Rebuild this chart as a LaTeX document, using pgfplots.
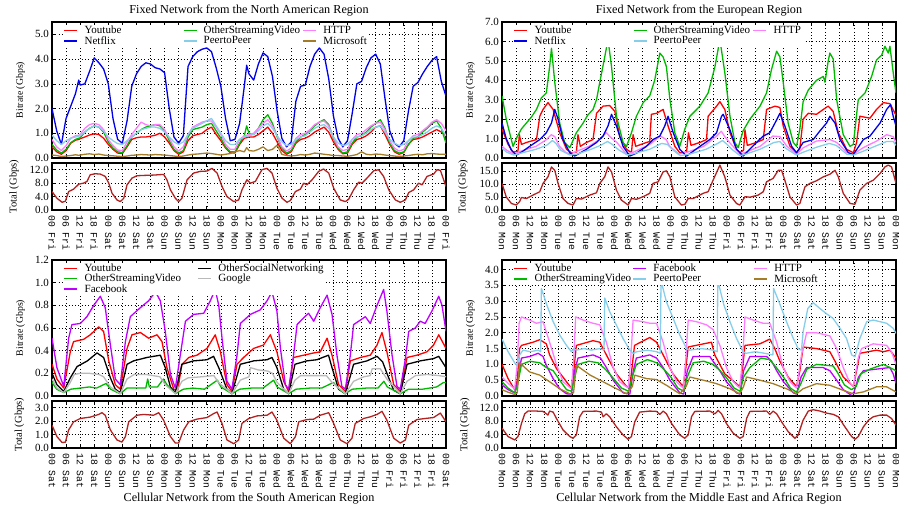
\documentclass[border=0pt]{standalone}
\usepackage{fontspec}
\setmainfont{Liberation Serif}
\newfontfamily\monof{Liberation Mono}
\usepackage{pgfplots}
\usepackage{pgfplotstable}
\pgfplotsset{compat=1.18}

\definecolor{cyt}{RGB}{255,0,0}
\definecolor{cnf}{RGB}{0,0,235}
\definecolor{cosv}{RGB}{0,185,0}
\definecolor{chttp}{RGB}{255,125,255}
\definecolor{cp2p}{RGB}{135,206,235}
\definecolor{cms}{RGB}{165,125,40}
\definecolor{cfb}{RGB}{190,0,255}
\definecolor{cosn}{RGB}{0,0,0}
\definecolor{cgo}{RGB}{185,185,185}
\definecolor{ctot}{RGB}{178,34,34}

\newcommand{\tfont}{\fontsize{12.2}{14}\selectfont}
\newcommand{\lfont}{\fontsize{11}{12}\selectfont}

\pgfplotsset{
 gbase/.style={
  scale only axis, width=394pt, xmin=0, xmax=168, ymin=0,
  xtick={0,6,...,168},
  grid=major,
  major grid style={black, line width=0.55pt, dash pattern=on 1pt off 2.3pt},
  axis line style={line width=1.3pt},
  tick align=inside, major tick length=4pt,
  tick style={black, line width=0.6pt},
  yticklabel style={font=\lfont, inner sep=1pt},
  yticklabel shift=2pt,
  /pgf/number format/fixed, /pgf/number format/fixed zerofill,
  /pgf/number format/precision=1, /pgf/number format/assume math mode=true,
  every axis plot/.append style={line width=1.3pt, line join=round, mark=none},
  legend cell align=left,
  legend image code/.code={\draw[##1] (0pt,0pt) -- (13pt,0pt);},
  legend style={draw=none, fill=white, font=\lfont, inner sep=1pt, row sep=0pt,
    nodes={inner sep=0.5pt, text depth=0.15em}, anchor=north west,
    at={(axis description cs:0.027,0.982)}},
 },
 mainax/.style={gbase, height=136pt, xticklabels={}, ylabel={Bitrate (Gbps)},
   ylabel style={at={(axis description cs:-0.080,0.5)}, anchor=center, font=\fontsize{9.8}{10}\selectfont}},
 totax/.style={gbase, height=47pt, ylabel={Total (Gbps)},
   xticklabel style={rotate=-90, anchor=west, font=\monof\fontsize{9.7}{10}\selectfont, inner sep=0pt},
   xticklabel shift=5pt,
   ylabel style={anchor=center, font=\fontsize{10.5}{11}\selectfont}},
 leg3/.style={legend columns=3, legend style={
   /tikz/column 1/.style={column sep=6pt}, /tikz/column 2/.style={column sep=#1},
   /tikz/column 3/.style={column sep=6pt}, /tikz/column 4/.style={column sep=2pt},
   /tikz/column 5/.style={column sep=6pt}}},
}

\pgfplotstableread{
h yt nf osv http p2p ms
0 0.45 2.00 0.55 0.75 0.93 0.12
2 0.25 1.10 0.32 0.45 0.70 0.10
4 0.15 0.55 0.20 0.30 0.55 0.06
6 0.30 1.60 0.35 0.50 0.70 0.08
8 0.60 2.10 0.62 0.80 0.80 0.10
10 0.72 2.60 0.75 0.90 0.85 0.13
11.4 0.75 3.15 0.80 0.92 0.88 0.11
12 0.78 2.95 0.82 0.95 0.90 0.12
14 0.85 3.00 1.05 1.20 1.05 0.15
16 0.93 3.50 1.20 1.35 1.20 0.17
18 0.98 4.05 1.30 1.40 1.30 0.14
20 0.95 3.85 1.25 1.35 1.25 0.16
22 0.80 3.60 1.05 1.15 1.10 0.12
24 0.55 3.00 0.65 0.75 0.85 0.10
26 0.35 1.60 0.40 0.50 0.70 0.09
28 0.20 0.75 0.25 0.32 0.58 0.07
30 0.18 0.60 0.22 0.30 0.55 0.06
32 0.45 1.50 0.50 0.65 0.70 0.08
34 0.75 2.90 0.85 0.95 0.85 0.11
36 0.82 3.40 1.00 1.20 1.00 0.12
38 0.85 3.70 1.15 1.45 1.15 0.14
40 0.85 3.85 1.25 1.35 1.20 0.13
42 0.88 3.80 1.30 1.30 1.25 0.12
44 0.92 3.65 1.35 1.35 1.25 0.14
46 1.00 3.60 1.30 1.35 1.20 0.13
48 0.85 3.45 1.10 1.15 1.05 0.12
50 0.60 2.00 0.70 0.80 0.85 0.10
52 0.30 0.85 0.35 0.45 0.65 0.08
54 0.15 0.60 0.20 0.28 0.55 0.06
56 0.25 0.90 0.30 0.45 0.65 0.08
58 0.70 3.70 0.85 0.95 0.95 0.12
60 0.90 4.10 1.15 1.25 1.20 0.15
62 0.95 4.30 1.20 1.35 1.30 0.16
64 1.00 4.40 1.25 1.45 1.40 0.18
66 1.15 4.45 1.35 1.50 1.50 0.20
68 1.25 4.30 1.40 1.50 1.60 0.18
70 0.95 3.65 1.10 1.25 1.30 0.15
72 0.70 2.90 0.80 0.95 1.00 0.12
74 0.40 1.60 0.45 0.55 0.70 0.15
76 0.22 0.70 0.25 0.35 0.55 0.18
78 0.20 0.75 0.25 0.35 0.55 0.25
80 0.55 1.40 0.60 0.75 0.75 0.30
82 0.80 2.90 0.90 0.90 0.85 0.25
83 0.82 3.75 1.30 0.92 0.88 0.42
84 0.85 3.40 1.00 0.95 0.90 0.30
86 0.85 3.15 0.95 1.00 0.95 0.28
88 0.95 3.80 1.20 1.20 1.10 0.35
90 1.10 4.25 1.55 1.40 1.30 0.45
92 1.25 4.10 1.75 1.55 1.40 0.30
94 1.00 3.30 1.40 1.30 1.20 0.35
96 0.65 1.90 0.85 0.90 0.90 0.52
98 0.30 0.80 0.40 0.45 0.65 0.15
100 0.15 0.45 0.20 0.28 0.50 0.10
102 0.25 0.65 0.30 0.40 0.55 0.08
104 0.60 2.30 0.65 0.80 0.75 0.10
106 0.75 2.90 0.85 0.95 0.85 0.14
108 0.80 2.95 0.95 1.00 0.90 0.12
110 0.90 3.70 1.10 1.15 1.05 0.15
112 1.05 4.20 1.30 1.35 1.20 0.20
114 1.15 4.45 1.45 1.45 1.30 0.18
116 1.25 4.20 1.55 1.50 1.35 0.15
118 1.05 3.20 1.35 1.30 1.20 0.13
120 0.65 1.70 0.80 0.85 0.85 0.10
122 0.35 0.80 0.40 0.45 0.60 0.10
124 0.17 0.45 0.20 0.30 0.50 0.08
126 0.20 0.70 0.25 0.35 0.55 0.07
128 0.55 1.80 0.60 0.75 0.75 0.10
130 0.75 3.00 0.85 0.95 0.85 0.14
132 0.80 3.10 0.90 1.00 0.90 0.25
134 0.90 3.65 1.05 1.15 1.00 0.15
136 1.05 4.05 1.25 1.30 1.15 0.13
138 1.25 4.20 1.40 1.40 1.25 0.16
140 1.30 3.80 1.55 1.45 1.30 0.15
142 0.95 2.40 1.20 1.15 1.05 0.12
144 0.55 1.10 0.60 0.70 0.75 0.10
146 0.25 0.60 0.30 0.40 0.60 0.08
148 0.15 0.45 0.20 0.28 0.50 0.06
150 0.22 0.70 0.25 0.35 0.55 0.08
152 0.55 1.90 0.55 0.70 0.70 0.10
154 0.75 2.90 0.80 0.90 0.85 0.13
156 0.78 3.05 0.85 0.95 0.85 0.15
158 0.85 3.40 1.05 1.10 0.95 0.13
160 0.95 3.70 1.20 1.25 1.05 0.17
162 1.05 3.95 1.40 1.45 1.20 0.18
164 1.15 4.10 1.50 1.55 1.30 0.16
166 1.05 3.10 1.20 1.40 1.20 0.15
168 0.90 2.50 0.60 1.10 0.90 0.15
}\tl

\begin{document}
\begin{tikzpicture}
\path[use as bounding box] (0,0) rectangle (899pt,-508pt);

% ---------------- TL main
\begin{axis}[mainax, at={(52pt,-158pt)}, anchor=south west, ymax=5.5, ytick={0,1,2,3,4,5},
  title={Fixed Network from the North American Region},
  title style={at={(axis description cs:0.5,1)}, anchor=base, yshift=3pt, font=\tfont},
  leg3=61pt]
\addplot[cyt] table[x=h,y=yt] {\tl}; \addlegendentry{Youtube}
\addplot[cosv] table[x=h,y=osv] {\tl}; \addlegendentry{OtherStreamingVideo}
\addplot[chttp] table[x=h,y=http] {\tl}; \addlegendentry{HTTP}
\addplot[cnf] table[x=h,y=nf] {\tl}; \addlegendentry{Netflix}
\addplot[cp2p] table[x=h,y=p2p] {\tl}; \addlegendentry{PeertoPeer}
\addplot[cms] table[x=h,y=ms] {\tl}; \addlegendentry{Microsoft}
\end{axis}

% ---------------- TL total
\begin{axis}[totax, at={(52pt,-210pt)}, anchor=south west, ymax=14, ytick={0,4,8,12},
  ylabel style={at={(axis description cs:-0.096,0.5)}},
  xticklabels={00 Fri,06 Fri,12 Fri,18 Fri,00 Sat,06 Sat,12 Sat,18 Sat,00 Sun,06 Sun,12 Sun,18 Sun,00 Mon,06 Mon,12 Mon,18 Mon,00 Tue,06 Tue,12 Tue,18 Tue,00 Wed,06 Wed,12 Wed,18 Wed,00 Thu,06 Thu,12 Thu,18 Thu,00 Fri}]
\addplot[ctot] coordinates {(0,5.5)(2.1,3.5)(4.3,2.3)(5.7,2.6)(7.1,5.5)(9.2,6.2)(11.4,7.7)(13.5,8.0)(14.9,8.5)(16.3,10.5)(18.5,10.8)(20.6,10.7)(22.7,10.0)(24.2,8.0)(25.6,5.0)(27.7,3.0)(29.1,2.5)(30.6,3.5)(32.0,7.5)(34.1,9.5)(36.2,10.2)(39.1,10.3)(43.3,10.4)(47.6,10.6)(49.0,9.0)(50.5,6.0)(52.6,3.5)(54.0,2.5)(55.4,3.5)(57.6,9.0)(60.4,11.0)(63.2,11.5)(66.1,11.6)(68.2,12.4)(70.4,11.0)(72.5,7.0)(74.6,4.0)(77.5,2.5)(79.6,3.0)(81.0,6.0)(83.1,9.0)(84.6,8.0)(86.7,8.5)(89.5,12.0)(91.7,12.4)(93.8,11.0)(95.9,6.5)(98.1,3.5)(100.2,2.3)(101.6,2.8)(103.8,5.5)(105.9,6.2)(107.3,8.0)(108.7,7.5)(110.9,9.0)(113.7,11.5)(115.8,12.2)(118.0,11.0)(120.1,6.5)(122.9,3.0)(125.1,2.5)(126.5,3.2)(128.6,6.0)(130.8,8.3)(132.2,8.0)(134.3,9.5)(137.2,11.7)(139.3,12.0)(141.4,10.0)(143.6,6.0)(146.4,3.0)(148.5,2.3)(150.7,3.0)(152.1,5.2)(154.2,6.0)(156.3,8.0)(157.8,7.5)(159.9,10.0)(162.7,10.7)(164.2,12.0)(165.6,11.8)(168,7.0)};
\end{axis}

% ---------------- TR main
\begin{axis}[mainax, at={(502pt,-158pt)}, anchor=south west, ymax=7, ytick={0,1,2,3,4,5,6,7},
  title={Fixed Network from the European Region},
  title style={at={(axis description cs:0.5,1)}, anchor=base, yshift=3pt, font=\tfont},
  leg3=61pt]
\addplot[cyt] coordinates {(0,1.5)(2.6,0.7)(4.7,0.3)(6.8,0.35)(7.4,1.2)(8.3,0.7)(10.4,0.8)(14.7,0.95)(16.1,2.15)(17.5,2.5)(19.6,2.85)(21.8,2.5)(24.6,1.3)(27.5,0.45)(29.6,0.27)(31.7,0.3)(32.4,1.2)(33.4,0.6)(36.0,0.8)(38.8,0.95)(40.3,2.3)(43.1,2.67)(45.9,2.7)(48.1,2.4)(50.2,1.1)(53.1,0.45)(55.2,0.27)(55.9,1.2)(57.0,0.6)(61.6,0.8)(63.0,0.85)(63.7,2.25)(65.9,2.3)(68.7,2.5)(70.8,1.65)(73.7,0.6)(75.8,0.27)(78.7,0.3)(79.5,1.3)(80.6,0.65)(84.4,0.8)(87.2,0.95)(87.9,2.15)(91.5,2.67)(92.9,2.9)(95.0,2.5)(97.2,1.3)(100.0,0.45)(101.4,0.27)(103.0,0.4)(103.6,1.45)(104.6,0.65)(108.5,0.8)(111.4,0.95)(112.8,2.5)(116.4,2.67)(118.5,2.6)(119.9,1.65)(122.8,0.6)(125.6,0.27)(127.0,0.5)(128.4,2.0)(130.6,2.3)(134.1,2.25)(137.0,2.5)(139.1,2.67)(141.2,2.4)(143.4,1.3)(146.9,0.45)(149.8,0.27)(151.2,0.8)(152.6,2.15)(156.9,2.05)(159.7,2.5)(162.6,2.85)(165.4,2.8)(168,2.2)};
\addlegendentry{Youtube}
\addplot[cosv] coordinates {(0,3.2)(1.8,2.0)(4.7,0.6)(6.5,1.1)(8.3,1.5)(10.4,1.8)(12.5,2.1)(14.7,2.5)(16.8,3.1)(18.9,3.35)(20.3,4.7)(21.1,5.65)(22.5,3.9)(24.6,1.8)(26.7,0.8)(28.9,0.53)(31.7,1.3)(34.6,1.8)(36.5,2.2)(38.8,2.5)(40.3,3.0)(41.7,3.9)(43.8,5.2)(45.2,6.1)(46.7,4.7)(48.8,2.15)(51.6,0.8)(53.1,0.6)(55.2,1.3)(57.3,2.15)(60.2,2.85)(63.0,3.2)(65.1,4.0)(67.3,5.4)(68.7,5.2)(70.1,4.7)(71.6,3.0)(73.7,1.3)(75.8,0.6)(78.0,1.5)(80.1,2.15)(84.4,2.67)(87.9,3.35)(90.8,4.7)(92.9,6.1)(95.0,4.4)(97.2,2.15)(99.3,0.8)(100.7,0.53)(102.8,1.4)(105.7,2.0)(110.0,2.67)(112.8,3.35)(114.9,4.55)(117.1,5.5)(118.5,5.2)(119.9,3.9)(122.0,1.8)(124.2,0.8)(125.6,0.6)(127.0,1.5)(128.4,2.9)(130.6,3.5)(134.1,4.0)(137.0,4.2)(137.7,3.9)(139.1,5.0)(139.8,5.4)(141.2,5.1)(142.7,3.0)(145.5,1.2)(148.4,0.6)(149.8,0.7)(151.9,3.0)(154.8,3.35)(157.6,4.2)(159.7,5.05)(161.9,5.3)(163.3,5.75)(164.7,5.4)(165.4,5.75)(166.8,4.4)(168,3.35)};
\addlegendentry{OtherStreamingVideo}
\addplot[chttp] coordinates {(0,0.6)(2,0.4)(5,0.2)(8,0.35)(14.5,0.6)(19,0.95)(21,1.2)(22.5,1.1)(24.5,0.6)(27,0.3)(29,0.2)(31,0.3)(37,0.6)(41.5,0.95)(44.5,1.3)(46,1.1)(49,0.8)(53,0.2)(56,0.3)(63,0.7)(67.5,1.13)(70,0.95)(71.5,0.6)(75.5,0.2)(79,0.3)(86,0.6)(91.5,1.13)(93.5,1.38)(95,1.1)(97,0.8)(101.5,0.2)(104,0.3)(110,0.6)(115.5,1.13)(118.5,1.1)(121.5,0.6)(125.5,0.2)(128.5,0.53)(134,0.87)(139.8,0.95)(142.7,0.8)(147,0.3)(149.8,0.2)(154,0.53)(159.7,0.87)(164,1.2)(166.8,1.1)(168,0.8)};
\addlegendentry{HTTP}
\addplot[cnf] coordinates {(0,1.8)(1.8,1.0)(4.0,0.4)(6.1,0.15)(8.3,0.3)(11.8,0.6)(16.1,0.95)(18.9,1.3)(21.1,1.8)(22.5,2.5)(23.9,2.0)(26.0,0.95)(28.9,0.27)(31.0,0.1)(36.0,0.45)(40.3,0.8)(43.1,1.13)(45.2,1.65)(46.7,2.25)(48.8,1.65)(51.6,0.6)(54.5,0.1)(57.3,0.25)(61.6,0.6)(64.4,0.95)(67.3,1.13)(69.4,1.65)(70.8,2.15)(73.0,1.3)(75.8,0.45)(78.7,0.1)(84.4,0.6)(88.6,0.95)(91.5,1.3)(93.6,2.15)(94.3,2.25)(97.2,1.45)(100.0,0.45)(102.8,0.1)(108.5,0.8)(111.4,1.13)(114.2,1.3)(116.4,1.8)(118.5,2.3)(120.6,1.65)(123.5,0.6)(125.6,0.27)(128.4,0.8)(132.7,0.95)(135.6,1.4)(138.4,1.8)(139.8,2.15)(142.0,1.8)(144.1,0.95)(147.7,0.27)(149.8,0.18)(154.1,0.95)(156.9,1.13)(161.2,1.8)(164.0,2.5)(165.7,2.75)(166.8,2.15)(168,1.65)};
\addlegendentry{Netflix}
\addplot[cp2p] coordinates {(0,0.5)(2,0.3)(5,0.15)(8,0.25)(14.5,0.45)(19,0.65)(21.5,0.9)(23,0.75)(25,0.4)(29,0.15)(32,0.2)(38,0.45)(42,0.65)(45,0.85)(47,0.7)(50,0.4)(53.5,0.15)(57,0.25)(63,0.45)(68,0.75)(70.5,0.7)(73,0.4)(76,0.12)(80,0.2)(87,0.45)(92,0.75)(94,0.9)(96,0.7)(98,0.45)(101.5,0.12)(104,0.2)(110,0.45)(116,0.8)(118.5,0.85)(121,0.5)(125.5,0.15)(128.5,0.3)(134,0.55)(139.5,0.75)(142.5,0.65)(147,0.2)(149.8,0.15)(154,0.35)(160,0.65)(164,0.85)(166.8,0.85)(168,0.65)};
\addlegendentry{PeertoPeer}
\end{axis}

% ---------------- TR total
\begin{axis}[totax, at={(502pt,-210pt)}, anchor=south west, ymax=18, ytick={0,5,10,15},
  ylabel style={at={(axis description cs:-0.099,0.5)}},
  xticklabels={00 Mon,06 Mon,12 Mon,18 Mon,00 Tue,06 Tue,12 Tue,18 Tue,00 Wed,06 Wed,12 Wed,18 Wed,00 Thu,06 Thu,12 Thu,18 Thu,00 Fri,06 Fri,12 Fri,18 Fri,00 Sat,06 Sat,12 Sat,18 Sat,00 Sun,06 Sun,12 Sun,18 Sun,00 Mon}]
\addplot[ctot] coordinates {(0,10.2)(1.8,5.0)(4.0,2.5)(6.1,1.9)(7.5,3.2)(8.3,4.8)(10.4,4.4)(13.2,5.7)(16.1,7.0)(17.5,10.2)(19.6,12.7)(21.1,16.5)(22.5,15.2)(23.9,10.2)(26.0,4.4)(28.2,2.5)(30.3,1.9)(31.7,4.4)(33.9,4.2)(37.4,5.7)(40.3,6.6)(41.7,10.2)(43.8,12.7)(45.2,16.5)(46.7,14.6)(48.8,7.6)(50.9,3.8)(53.8,1.9)(55.2,4.4)(57.3,4.1)(60.2,5.1)(63.0,6.4)(64.4,10.2)(66.6,10.8)(68.7,14.6)(70.1,15.0)(71.6,12.7)(73.7,5.0)(76.5,1.9)(78.0,2.2)(79.4,4.4)(81.5,4.4)(85.8,6.4)(87.9,7.0)(90.0,11.4)(92.9,17.2)(95.0,12.7)(97.2,5.7)(100.0,2.5)(101.4,1.9)(103.6,5.1)(105.7,4.9)(109.2,5.7)(111.4,7.0)(112.8,10.8)(115.6,12.1)(117.8,15.2)(119.2,15.2)(120.6,11.4)(122.8,5.0)(125.6,1.9)(127.0,2.5)(129.2,8.9)(131.3,10.2)(134.1,11.2)(137.0,12.7)(139.8,13.7)(142.0,15.2)(143.4,12.7)(145.5,6.4)(148.4,2.5)(150.5,2.2)(152.6,7.6)(155.5,10.2)(158.3,11.4)(161.2,14.0)(163.3,16.5)(164.7,17.2)(166.1,16.5)(168,10.2)};
\end{axis}

% ---------------- BL main
\begin{axis}[mainax, at={(52pt,-396pt)}, anchor=south west, ymax=1.2, ytick={0,0.2,0.4,0.6,0.8,1.0,1.2},
  legend columns=2, legend style={/tikz/column 1/.style={column sep=6pt}, /tikz/column 2/.style={column sep=16pt}, /tikz/column 3/.style={column sep=6pt}}]
\addplot[cyt] coordinates {(0,0.28)(2.1,0.15)(5.0,0.07)(7.8,0.39)(9.2,0.48)(13.5,0.50)(16.3,0.54)(19.9,0.61)(22.0,0.57)(24.2,0.31)(27.0,0.10)(29.1,0.06)(32.0,0.42)(34.1,0.54)(37.7,0.56)(41.2,0.51)(44.8,0.54)(46.9,0.48)(49.0,0.25)(51.9,0.06)(53.6,0.05)(55.4,0.28)(58.3,0.34)(61.8,0.36)(66.1,0.42)(69.6,0.54)(71.8,0.39)(74.6,0.10)(76.7,0.04)(78.9,0.28)(81.7,0.34)(86.0,0.42)(90.2,0.45)(93.1,0.54)(95.9,0.39)(98.8,0.13)(100.9,0.04)(103.0,0.34)(107.3,0.36)(111.6,0.38)(114.4,0.39)(117.3,0.51)(119.4,0.36)(122.2,0.10)(125.1,0.04)(127.2,0.31)(131.5,0.34)(135.7,0.36)(138.6,0.45)(140.7,0.56)(142.8,0.39)(145.7,0.10)(148.5,0.04)(151.4,0.34)(155.6,0.36)(159.9,0.39)(162.7,0.45)(164.9,0.54)(168,0.42)};
\addlegendentry{Youtube}
\addplot[cosn] coordinates {(0,0.20)(2.1,0.10)(5.0,0.04)(7.8,0.16)(10.7,0.26)(15.1,0.31)(19.2,0.38)(22.0,0.34)(24.9,0.16)(27,0.06)(29.1,0.03)(32.0,0.28)(34.8,0.31)(40.5,0.34)(46.2,0.36)(48.3,0.25)(50.5,0.08)(52.6,0.03)(55.4,0.28)(60.4,0.31)(66.1,0.32)(68.9,0.35)(71.1,0.25)(74.6,0.06)(76.7,0.02)(80.3,0.28)(86.0,0.31)(91.7,0.32)(93.8,0.34)(95.9,0.25)(98.8,0.06)(100.9,0.02)(103.6,0.28)(108.7,0.31)(112.9,0.32)(117.9,0.36)(119.4,0.25)(122.2,0.06)(125.1,0.02)(128.6,0.28)(134.3,0.31)(138.6,0.35)(141,0.30)(142.8,0.20)(145.7,0.05)(148.5,0.02)(151.4,0.28)(157.0,0.31)(162.7,0.33)(164.9,0.35)(168,0.25)};
\addlegendentry{OtherSocialNetworking}
\addplot[cosv] coordinates {(0,0.12)(2,0.06)(5,0.03)(8,0.06)(12,0.07)(16,0.08)(19,0.07)(23,0.11)(25,0.06)(29,0.02)(32,0.07)(36,0.07)(40,0.07)(40.8,0.15)(41.5,0.08)(45,0.08)(47.5,0.15)(49,0.10)(52.6,0.02)(56,0.06)(60,0.07)(65,0.06)(70.5,0.14)(72,0.08)(76.7,0.02)(80,0.06)(85,0.07)(90,0.07)(94.5,0.14)(96,0.08)(100.9,0.02)(104,0.06)(110,0.07)(115,0.07)(120,0.12)(122,0.07)(125,0.02)(128,0.06)(134,0.07)(139,0.07)(141.5,0.13)(143,0.08)(148.5,0.02)(152,0.06)(158,0.06)(164,0.08)(167,0.12)(168,0.12)};
\addlegendentry{OtherStreamingVideo}
\addplot[cgo] coordinates {(0,0.15)(2.1,0.07)(5.0,0.03)(7.8,0.12)(9.5,0.19)(12,0.20)(16,0.20)(20,0.19)(22,0.17)(24.9,0.08)(29.1,0.02)(32,0.15)(35,0.19)(40,0.19)(46,0.17)(48.3,0.10)(52.6,0.02)(55.4,0.13)(58,0.16)(64,0.17)(69,0.18)(71,0.12)(76.7,0.02)(80.3,0.14)(84,0.17)(84.6,0.25)(88,0.23)(92,0.22)(94,0.20)(96,0.12)(100.9,0.02)(103.6,0.14)(106,0.18)(112,0.18)(117,0.18)(119.4,0.12)(125.1,0.02)(128.6,0.13)(133,0.17)(135.7,0.18)(136.5,0.24)(140,0.24)(142.8,0.15)(148.5,0.02)(151.4,0.13)(155,0.18)(160,0.19)(165,0.18)(168,0.17)};
\addlegendentry{Google}
\addplot[cfb] coordinates {(0,0.51)(2.1,0.25)(5.0,0.085)(7.1,0.51)(8.5,0.63)(12.1,0.64)(14.9,0.70)(17.8,0.80)(20.6,0.88)(22.7,0.78)(24.9,0.45)(27.0,0.15)(29.1,0.10)(31.3,0.48)(33.4,0.70)(37.7,0.78)(41.2,0.84)(44.1,0.92)(46.2,0.84)(48.3,0.57)(50.5,0.19)(52.6,0.07)(54.7,0.36)(56.9,0.66)(60.4,0.72)(64.7,0.73)(67.5,0.84)(69.6,0.94)(71.1,0.80)(72.5,0.51)(74.6,0.13)(76.7,0.06)(78.9,0.36)(80.3,0.64)(84.6,0.72)(88.8,0.76)(91.7,0.84)(93.8,0.92)(95.9,0.75)(97.4,0.42)(99.5,0.10)(100.9,0.06)(103.0,0.36)(104.5,0.63)(107.3,0.69)(109.4,0.73)(111.6,0.66)(114.4,0.78)(117.3,0.89)(119.4,0.72)(121.5,0.36)(123.6,0.085)(125.1,0.06)(127.2,0.36)(128.6,0.63)(131.5,0.67)(133.6,0.70)(135.7,0.64)(138.6,0.80)(141.4,0.94)(142.8,0.75)(145.0,0.36)(147.1,0.085)(148.5,0.06)(150.7,0.33)(152.1,0.57)(154.9,0.60)(157.0,0.66)(159.1,0.64)(162.0,0.75)(164.9,0.88)(166.3,0.80)(168,0.57)};
\addlegendentry{Facebook}
\end{axis}

% ---------------- BL total
\begin{axis}[totax, at={(52pt,-448pt)}, anchor=south west, ymax=3.5, ytick={0,1,2,3},
  ylabel style={at={(axis description cs:-0.083,0.5)}},
  xlabel={Cellular Network from the South American Region},
  xlabel style={at={(axis description cs:0.5,0)}, anchor=base, yshift=-53pt, font=\tfont},
  xticklabels={00 Sat,06 Sat,12 Sat,18 Sat,00 Sun,06 Sun,12 Sun,18 Sun,00 Mon,06 Mon,12 Mon,18 Mon,00 Tue,06 Tue,12 Tue,18 Tue,00 Wed,06 Wed,12 Wed,18 Wed,00 Thu,06 Thu,12 Thu,18 Thu,00 Fri,06 Fri,12 Fri,18 Fri,00 Sat}]
\addplot[ctot] coordinates {(0,1.7)(2.1,0.85)(4.3,0.41)(5.7,0.43)(7.1,1.34)(9.2,1.95)(12.1,2.2)(16.3,2.3)(19.9,2.5)(21.3,2.63)(22.7,2.44)(24.9,1.34)(27.7,0.6)(29.8,0.44)(31.3,0.85)(32.7,1.95)(36.2,2.44)(39.1,2.5)(43.3,2.44)(45.5,2.63)(47.6,2.07)(50.5,0.85)(52.6,0.37)(54.0,0.37)(56.1,1.34)(58.3,1.95)(61.8,2.15)(66.1,2.27)(68.9,2.56)(70.4,2.68)(72.5,1.83)(74.6,0.6)(77.5,0.32)(79.6,0.6)(81.0,1.83)(83.9,2.2)(87.4,2.39)(91.7,2.44)(93.8,2.68)(95.9,2.07)(98.8,0.73)(101.6,0.32)(103.8,0.85)(105.2,1.95)(108.7,2.12)(111.6,2.15)(114.4,2.44)(118.0,2.63)(120.1,1.83)(122.9,0.6)(125.8,0.32)(127.9,0.73)(129.3,1.83)(132.9,2.2)(135.7,2.32)(138.6,2.5)(140.7,2.73)(142.8,2.07)(145.7,0.73)(148.5,0.37)(150.7,0.6)(152.1,1.7)(155.6,2.12)(159.2,2.2)(162.7,2.27)(165.6,2.6)(168,1.95)};
\end{axis}

% ---------------- BR main
\begin{axis}[mainax, at={(502pt,-396pt)}, anchor=south west, ymax=4.3, ytick={0,0.5,1,1.5,2,2.5,3,3.5,4},
  legend columns=3, legend style={/tikz/column 1/.style={column sep=6pt}, /tikz/column 2/.style={column sep=1pt},
   /tikz/column 3/.style={column sep=6pt}, /tikz/column 4/.style={column sep=52pt}, /tikz/column 5/.style={column sep=6pt}}]
\addplot[cyt] coordinates {(0,1.0)(2.6,0.55)(5.4,0.2)(6.5,0.5)(7.5,1.5)(8.3,1.6)(13.2,1.7)(16.1,1.78)(18.9,1.65)(20.3,1.3)(23.2,0.87)(27.5,0.45)(29.6,0.25)(30.6,0.8)(31.7,1.6)(38.8,1.75)(41.7,1.7)(44.5,1.3)(48.8,0.7)(53.1,0.3)(54.5,0.3)(55.6,1.0)(56.5,1.6)(63.0,1.85)(65.9,1.7)(68.7,1.3)(72.9,0.7)(77.2,0.3)(78.4,0.9)(79.4,1.55)(86.0,1.65)(89.3,1.7)(90.7,1.3)(95.0,0.7)(101.4,0.3)(102.6,0.9)(103.6,1.6)(110.0,1.65)(114.2,1.8)(116.3,1.5)(118.5,1.1)(122.0,0.6)(125.6,0.3)(127.0,0.8)(128.4,1.55)(134.1,1.5)(139.8,1.4)(142.0,1.1)(145.5,0.6)(149.8,0.3)(151.2,0.8)(152.6,1.35)(159.7,1.45)(162.6,1.4)(165.4,1.45)(168,1.2)};
\addlegendentry{Youtube}
\addplot[cfb] coordinates {(0,0.35)(2.6,0.2)(5.4,0.1)(6.5,0.4)(8.3,1.2)(11.8,1.25)(15.4,1.35)(17.5,1.25)(18.9,0.97)(21.8,0.55)(24.6,0.23)(27.5,0.07)(29.6,0.06)(31,0.8)(32.4,1.2)(38.8,1.3)(42,1.2)(44.5,0.9)(47.4,0.5)(51.6,0.1)(54.5,0.06)(56,0.8)(57.3,1.2)(63.0,1.3)(65.9,1.2)(68.7,0.9)(71.6,0.5)(75.8,0.1)(77.5,0.06)(79,0.8)(81.5,1.25)(88.6,1.25)(90,1.1)(92.9,0.8)(95.7,0.45)(99.9,0.1)(101.5,0.06)(103,0.8)(105.7,1.25)(112.8,1.25)(115,1.1)(117.1,0.8)(120,0.45)(124.2,0.1)(125.6,0.06)(127.5,0.6)(129.9,0.9)(136.9,0.9)(139.8,0.8)(142.7,0.5)(145.5,0.2)(148.4,0.05)(150,0.1)(152,0.6)(154.1,0.8)(159.7,0.85)(165.4,0.9)(166.8,0.7)(168,0.4)};
\addlegendentry{Facebook}
\addplot[chttp] coordinates {(0,0.6)(2.6,0.4)(5.4,0.22)(6.5,1.0)(7.3,2.3)(8.3,2.5)(11.8,2.4)(14.7,2.3)(17.5,2.35)(20.3,1.7)(23.2,1.0)(26.0,0.45)(29.6,0.23)(30.6,1.2)(31.4,2.5)(34.6,2.4)(38.8,2.3)(41.7,2.25)(44.5,1.7)(47.4,0.9)(50.2,0.45)(53.8,0.25)(54.9,1.2)(55.9,2.4)(60.2,2.35)(63.0,2.3)(65.9,2.3)(68.7,1.7)(71.6,0.9)(74.4,0.45)(77.2,0.25)(78.4,1.2)(79.4,2.4)(82.9,2.35)(87.2,2.25)(90.0,2.1)(92.9,1.6)(95.7,0.9)(98.6,0.45)(101.4,0.25)(102.6,1.2)(103.6,2.5)(107.1,2.4)(111.3,2.3)(114.2,2.3)(117.1,1.7)(119.9,0.9)(122.8,0.45)(125.6,0.25)(127.7,1.3)(129.9,2.0)(134.1,2.0)(139.8,1.9)(142.7,1.5)(145.5,0.9)(148.4,0.4)(149.8,0.3)(151.9,1.2)(153.3,1.5)(158.3,1.65)(164.0,1.6)(166.1,1.4)(168,1.0)};
\addlegendentry{HTTP}
\addplot[cosv] coordinates {(0,0.45)(2.6,0.25)(5.4,0.1)(6.5,0.3)(8.3,1.0)(11.8,1.1)(16.1,1.05)(18.9,0.9)(21.8,0.8)(24.6,0.5)(27.5,0.2)(29.6,0.15)(31,0.6)(32.4,1.0)(37,1.1)(41,1.05)(44,0.85)(47,0.6)(51,0.25)(54,0.15)(55.5,0.6)(57.3,1.0)(62,1.15)(66,1.05)(69,0.85)(72,0.6)(75,0.25)(77.5,0.15)(79,0.6)(81.5,1.05)(86,1.1)(90,1.0)(93,0.8)(96,0.55)(99,0.25)(101.5,0.15)(103,0.6)(105.7,0.9)(110.4,1.2)(114,1.15)(117,0.9)(120,0.6)(123,0.25)(125.6,0.12)(127.5,0.4)(130,0.85)(134.1,1.0)(141.2,0.95)(143,0.75)(146,0.35)(149,0.2)(151,0.3)(153,0.7)(156.9,0.85)(162.6,1.0)(165.4,0.9)(168,0.8)};
\addlegendentry{OtherStreamingVideo}
\addplot[cp2p] coordinates {(0,1.8)(2.6,1.4)(5.4,1.05)(6.5,0.95)(7.5,1.3)(9,1.45)(12,1.4)(15.5,1.45)(16.5,1.4)(16.8,3.4)(19,2.9)(21.8,2.35)(24.6,1.93)(27.5,1.6)(29.6,1.4)(30.6,1.5)(31.7,1.45)(35,1.5)(38,1.45)(41.7,1.5)(43.5,1.45)(43.8,3.1)(45.9,2.67)(48.8,2.24)(51.6,1.82)(54.5,1.45)(55.9,1.35)(57.5,1.4)(62,1.45)(66,1.4)(67.5,1.35)(67.8,3.65)(70.1,2.98)(73.0,2.45)(75.8,1.93)(78.7,1.5)(80,1.45)(85,1.5)(90,1.45)(91.8,1.4)(92.0,3.65)(94.6,2.88)(97.2,2.35)(100.0,1.82)(102.8,1.4)(104,1.35)(108,1.4)(112,1.35)(115.5,1.3)(115.8,3.4)(118.5,2.9)(121.3,2.35)(124.2,1.82)(126.3,1.5)(127.7,1.45)(128.4,2.03)(130.4,2.77)(132.7,2.95)(135.5,2.77)(138.4,2.6)(141.2,2.45)(144.1,2.14)(146.9,1.82)(149.1,1.3)(150.5,1.24)(152.6,1.82)(155.5,2.35)(158.3,2.4)(161.2,2.35)(164.0,2.3)(166.8,2.14)(168,1.98)};
\addlegendentry{PeertoPeer}
\addplot[cms] coordinates {(0,0.2)(2.6,0.12)(5.4,0.05)(6.5,0.1)(7.5,1.05)(11.8,0.76)(16.1,0.66)(20.3,0.45)(24.6,0.23)(28.9,0.07)(30.5,0.1)(31.7,0.97)(37.6,0.66)(43.1,0.45)(48.8,0.23)(53.1,0.07)(55.6,0.3)(56.6,0.66)(61.6,0.55)(65.9,0.52)(70.1,0.34)(75.8,0.07)(78.5,0.3)(80.1,0.6)(85.8,0.5)(91.5,0.39)(97.2,0.23)(101.4,0.07)(103,0.3)(104.3,0.6)(110.0,0.5)(115.6,0.39)(121.3,0.23)(125.6,0.07)(128.4,0.23)(134.1,0.39)(139.8,0.34)(145.5,0.18)(149.8,0.07)(154.1,0.13)(159.7,0.29)(164.0,0.29)(168,0.13)};
\addlegendentry{Microsoft}
\end{axis}

% ---------------- BR total
\begin{axis}[totax, at={(502pt,-448pt)}, anchor=south west, ymax=14, ytick={0,4,8,12},
  ylabel style={at={(axis description cs:-0.094,0.5)}},
  xlabel={Cellular Network from the Middle East and Africa Region},
  xlabel style={at={(axis description cs:0.5,0)}, anchor=base, yshift=-53pt, font=\tfont},
  xticklabels={00 Mon,06 Mon,12 Mon,18 Mon,00 Tue,06 Tue,12 Tue,18 Tue,00 Wed,06 Wed,12 Wed,18 Wed,00 Thu,06 Thu,12 Thu,18 Thu,00 Fri,06 Fri,12 Fri,18 Fri,00 Sat,06 Sat,12 Sat,18 Sat,00 Sun,06 Sun,12 Sun,18 Sun,00 Mon}]
\addplot[ctot] coordinates {(0,5.9)(2.6,3.4)(5.4,2.4)(6.8,3.4)(8.3,7.3)(9.7,10.2)(11.1,11.0)(14.7,11.0)(17.5,10.9)(18.9,10.2)(19.6,9.8)(20.3,11.0)(21.8,10.7)(23.2,8.8)(26.0,5.4)(28.9,3.4)(30.3,2.9)(31.7,3.9)(33.1,9.3)(34.6,10.9)(40.3,11.0)(42.4,10.7)(43.1,9.3)(44.5,10.2)(45.9,9.3)(48.8,6.3)(51.6,3.9)(53.8,2.6)(55.2,3.4)(56.6,7.8)(58.7,10.7)(63.0,11.0)(65.9,10.9)(67.3,10.0)(68.7,11.0)(70.1,10.2)(72.3,7.3)(75.8,3.9)(77.9,2.9)(79.4,3.9)(80.8,9.3)(82.2,10.9)(88.6,11.0)(90.8,10.2)(92.2,11.2)(93.6,10.2)(95.7,7.3)(98.6,4.4)(101.4,2.9)(102.8,3.4)(104.3,8.8)(105.7,10.9)(112.8,11.0)(114.2,10.0)(115.6,11.0)(117.1,10.2)(119.2,7.8)(122.0,4.9)(124.9,2.9)(126.3,3.9)(128.4,8.3)(130.6,11.0)(132.7,11.4)(135.6,11.0)(138.4,10.4)(141.3,10.0)(143.4,9.3)(146.2,6.3)(149.1,3.4)(150.5,2.6)(151.9,3.4)(154.1,6.3)(156.3,8.3)(158.3,9.3)(161.2,9.8)(164.0,9.8)(166.1,8.8)(168,6.8)};
\end{axis}
\end{tikzpicture}
\end{document}
